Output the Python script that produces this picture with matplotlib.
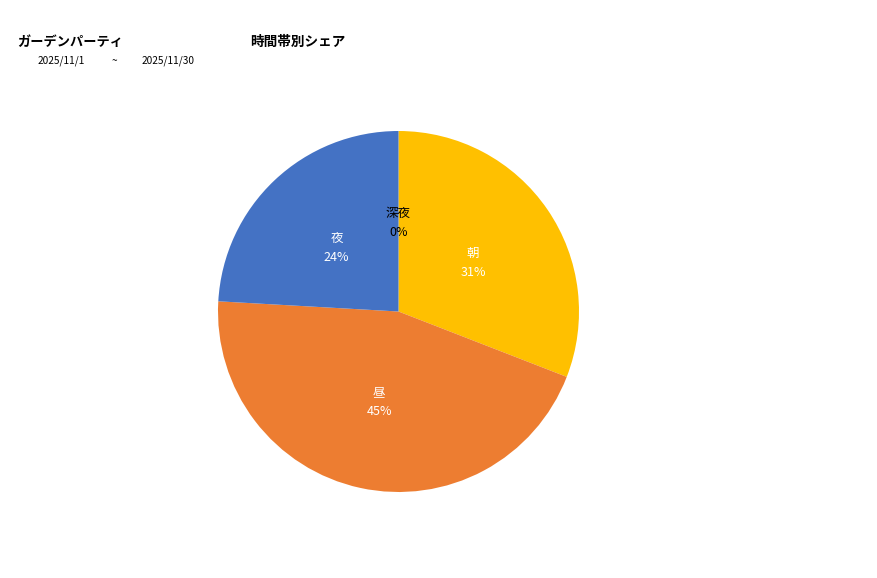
import numpy as np
import matplotlib
matplotlib.use("Agg")
import matplotlib.pyplot as plt

plt.rcParams['font.family'] = ['Noto Sans CJK JP', 'DejaVu Sans']

categories = ['朝', '昼', '夜', '深夜']
values = [30.9, 45.0, 24.1, 0.0]
colors = ['#FFC000', '#ED7D31', '#4472C4', '#A5A5A5']
text_colors = ['white', 'white', 'white', 'black']
title_left = 'ガーデンパーティ'
title_center = '時間帯別シェア'
date_from = '2025/11/1'
date_sep = '~'
date_to = '2025/11/30'

W, H = 877, 578
fig = plt.figure(figsize=(W / 100, H / 100), dpi=100)
cx, cy, r = 398.5, 311.5, 180.5
ax = fig.add_axes([(cx - r) / W, (H - cy - r) / H, 2 * r / W, 2 * r / H])

wedges, _ = ax.pie(values, colors=colors, startangle=90, counterclock=False,
                   radius=1.0, wedgeprops=dict(linewidth=0))
ax.set_xlim(-1, 1)
ax.set_ylim(-1, 1)
ax.set_aspect('equal')
ax.axis('off')

total = sum(values)
for w, name, v, tc in zip(wedges, categories, values, text_colors):
    mid = np.deg2rad((w.theta1 + w.theta2) / 2)
    x, y = 0.5 * np.cos(mid), 0.5 * np.sin(mid)
    y -= 0.012
    pct = f"{round(v / total * 100):d}%"
    ax.text(x, y + 0.053, name, ha='center', va='center', color=tc, fontsize=9)
    ax.text(x, y - 0.053, pct, ha='center', va='center', color=tc, fontsize=9)

fig.text(17 / W, 1 - 42 / H, title_left, fontsize=9.5, fontweight='bold', ha='left', va='center')
fig.text(250 / W, 1 - 42 / H, title_center, fontsize=9.8, fontweight='bold', ha='left', va='center')
fig.text(38 / W, 1 - 61 / H, date_from, fontsize=7.3, ha='left', va='center')
fig.text(112 / W, 1 - 61 / H, date_sep, fontsize=7.3, ha='left', va='center')
fig.text(142 / W, 1 - 61 / H, date_to, fontsize=7.3, ha='left', va='center')

fig.savefig('out.png', dpi=100)
